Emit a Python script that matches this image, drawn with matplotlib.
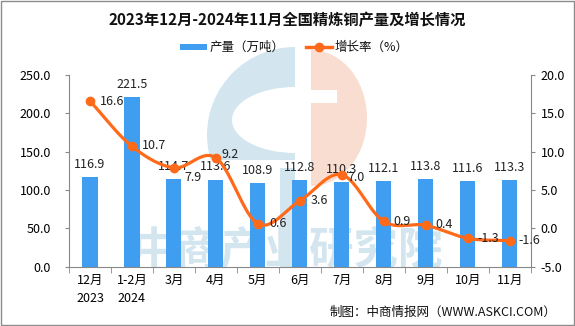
import numpy as np
import matplotlib
matplotlib.use("Agg")
import matplotlib.pyplot as plt
from matplotlib.patches import Wedge, Rectangle, Ellipse

plt.rcParams['font.family'] = ['Noto Sans CJK SC', 'DejaVu Sans']

categories = ['12月\n2023', '1-2月\n2024', '3月', '4月', '5月', '6月', '7月', '8月', '9月', '10月', '11月']
production = [116.9, 221.5, 114.7, 113.6, 108.9, 112.8, 110.3, 112.1, 113.8, 111.6, 113.3]
growth = [16.6, 10.7, 7.9, 9.2, 0.6, 3.6, 7.0, 0.9, 0.4, -1.3, -1.6]

bar_color = '#3F9EF0'
line_color = '#FF6A1A'
wm_blue = '#D3E5EF'
wm_peach = '#F9DDD1'

# label offsets of line labels (pixels: right, down)
lab_dx = [10, 10, 11, 6, 11, 11, 6, 10, 10, 10, 9]
lab_dy = [0, -1, 10, -3, 0, 0, 3, 0, -1, 0, 0]

W, H = 575, 326
fig = plt.figure(figsize=(W / 100, H / 100), dpi=100)

# background watermark / logo (figure pixel coords)
bg = fig.add_axes([0, 0, 1, 1], zorder=0)
bg.set_xlim(0, W)
bg.set_ylim(H, 0)
bg.axis('off')
disc = Wedge((295, 135), 88, 90, 270, color=wm_blue, lw=0)
bg.add_patch(disc)
clip = Rectangle((0, 0), W, 160, transform=bg.transData, visible=False)
bg.add_patch(clip)
disc.set_clip_path(clip)
bg.add_patch(Ellipse((295, 120), 126, 66, color='white', lw=0))
bg.add_patch(Rectangle((280, 168), 15, 99, color=wm_blue, lw=0))
peach = Ellipse((311, 118), 112, 136, color=wm_peach, lw=0)
bg.add_patch(peach)
clip2 = Rectangle((311, 0), W, H, transform=bg.transData, visible=False)
bg.add_patch(clip2)
peach.set_clip_path(clip2)
bg.add_patch(Rectangle((311, 90), 26, 13, color='white', lw=0))
bg.text(287, 250, '中商产业研究院', fontsize=32, color=wm_blue, ha='center', va='center',
        fontweight='bold')
# frame
bg.add_patch(Rectangle((0.5, 0.5), W - 1.5, H - 1.5, fill=False, ec='#8C8C8C', lw=1))

ax = fig.add_axes([69 / W, 1 - 266.7 / H, (530.7 - 69) / W, (266.7 - 75) / H], zorder=2)
ax.patch.set_alpha(0)
x = np.arange(len(categories))
ax.bar(x, production, width=0.36, color=bar_color, zorder=2)
ax.set_xlim(-0.5, len(categories) - 0.5)
ax.set_ylim(0, 250)
yt = np.arange(0, 251, 50)
ax.set_yticks(yt)
ax.set_yticklabels([f'{v:.1f}' for v in yt], fontsize=9)
ax.set_xticks(x)
ax.set_xticklabels(categories, fontsize=9, linespacing=1.5)
ax.set_xticks(np.arange(-0.5, len(categories), 1), minor=True)
ax.tick_params(axis='x', which='major', length=0, pad=5)
ax.tick_params(axis='x', which='minor', length=4, color='#888888', direction='out')
ax.tick_params(axis='y', length=3, color='#888888', direction='out', pad=10)
for s in ['top', 'right']:
    ax.spines[s].set_visible(False)
for s in ['left', 'bottom']:
    ax.spines[s].set_color('#888888')
for xi, v in zip(x, production):
    ax.text(xi, v + 8, f'{v:.1f}', ha='center', va='bottom', fontsize=9, color='#222222', zorder=5)

ax2 = ax.twinx()
ax2.set_ylim(-5, 20)
yt2 = np.arange(-5, 21, 5)
ax2.set_yticks(yt2)
ax2.set_yticklabels([f'{v:.1f}' for v in yt2], fontsize=9)
ax2.tick_params(axis='y', length=3, color='#888888', direction='out', pad=4)
for s in ['top', 'left', 'bottom']:
    ax2.spines[s].set_visible(False)
ax2.spines['right'].set_color('#888888')

# smoothed line (Catmull-Rom through the data points)
gx = x.astype(float)
gy = np.array(growth, dtype=float)
px = np.concatenate([[2 * gx[0] - gx[1]], gx, [2 * gx[-1] - gx[-2]]])
py = np.concatenate([[2 * gy[0] - gy[1]], gy, [2 * gy[-1] - gy[-2]]])
sx, sy = [], []
t = np.linspace(0, 1, 30)
for i in range(1, len(px) - 2):
    p0, p1, p2, p3 = px[i - 1], px[i], px[i + 1], px[i + 2]
    q0, q1, q2, q3 = py[i - 1], py[i], py[i + 1], py[i + 2]
    cx = 0.5 * ((2 * p1) + (-p0 + p2) * t + (2 * p0 - 5 * p1 + 4 * p2 - p3) * t**2 + (-p0 + 3 * p1 - 3 * p2 + p3) * t**3)
    cy = 0.5 * ((2 * q1) + (-q0 + q2) * t + (2 * q0 - 5 * q1 + 4 * q2 - q3) * t**2 + (-q0 + 3 * q1 - 3 * q2 + q3) * t**3)
    sx.extend(cx)
    sy.extend(cy)
ax2.plot(sx, sy, color=line_color, lw=2.3, zorder=3, solid_capstyle='round')
ax2.plot(gx, gy, 'o', color=line_color, ms=6, zorder=4)
pt = 72 / 100
for xi, v, dx, dy in zip(gx, gy, lab_dx, lab_dy):
    ax2.annotate(f'{v:.1f}', (xi, v), xytext=(dx * pt, -dy * pt), textcoords='offset points',
                 ha='left', va='center', fontsize=9, color='#222222', zorder=5)

# title and legend
fig.text(0.5, 1 - 20 / H, '2023年12月-2024年11月全国精炼铜产量及增长情况', ha='center', va='center',
         fontsize=11, fontweight='bold', color='#111111')
lg = fig.add_axes([0, 0, 1, 1], zorder=6)
lg.set_xlim(0, W)
lg.set_ylim(H, 0)
lg.axis('off')
lg.add_patch(Rectangle((180, 44), 27, 6, color=bar_color, lw=0))
lg.text(210, 47, '产量（万吨）', fontsize=9, va='center', ha='left', color='#111111')
lg.plot([306, 332], [47, 47], color=line_color, lw=2.5)
lg.plot([319], [47], 'o', color=line_color, ms=6)
lg.text(335, 47, '增长率（%）', fontsize=9, va='center', ha='left', color='#111111')
lg.text(556, 312, '制图：中商情报网（WWW.ASKCI.COM）', fontsize=9, va='center', ha='right', color='#111111')

fig.savefig('out.png', dpi=100)
